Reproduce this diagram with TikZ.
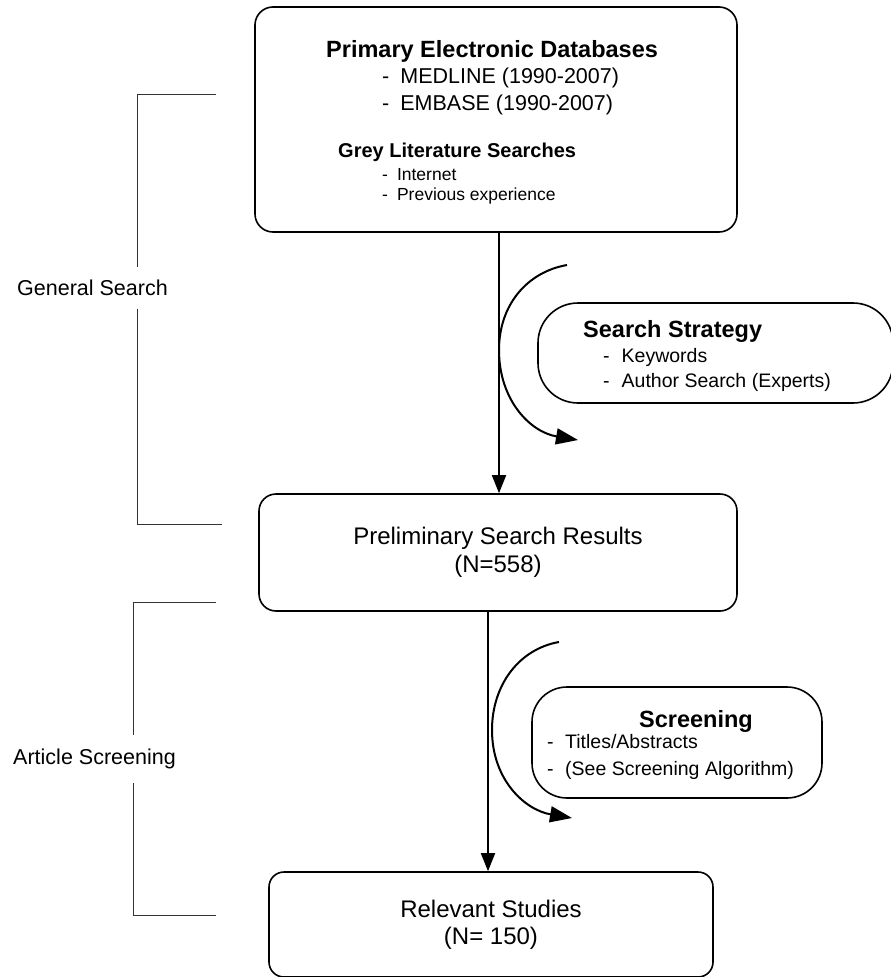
\documentclass[tikz,border=0pt]{standalone}
\usepackage{fontspec}
\setmainfont{Liberation Sans}
\usetikzlibrary{arrows.meta}
\tikzset{
    flowbox/.style={
        rectangle, draw, line width=1.6pt, inner sep=0pt, align=center
    },
    arrow/.style={
        -{Triangle[length=18pt,width=14pt]}, line width=1.8pt, draw=black
    },
    bendarrow/.style={
        -{Triangle[length=22pt,width=16pt]}, line width=2pt, draw=black
    },
    bracketline/.style={
        line width=0.9pt, draw=black!80
    }
}

\begin{document}
\begin{tikzpicture}[
        x=1pt, y=-1pt,
        headtext/.style={anchor=base west, inner sep=0pt, font=\fontsize{23.5}{28}\selectfont\bfseries},
        subhead/.style={anchor=base west, inner sep=0pt, font=\fontsize{20}{24}\selectfont\bfseries},
        itemtext/.style={anchor=base west, inner sep=0pt, font=\fontsize{21.5}{26}\selectfont},
        smallitem/.style={anchor=base west, inner sep=0pt, font=\fontsize{17.5}{21}\selectfont},
        sideitem/.style={anchor=base west, inner sep=0pt, font=\fontsize{19.5}{24}\selectfont},
        sidelabel/.style={inner xsep=0pt, font=\fontsize{21.5}{26}\selectfont}
    ]
        \useasboundingbox (0,0) rectangle (891,977);

        % Databases
        \node[flowbox, rounded corners=18pt, minimum width=482pt, minimum height=225pt] (db) at (496,119.5) {};
        \node[headtext] (db_title) at (326,57) {Primary Electronic Databases};
        \node[itemtext] (db_medline) at (382,83) {-\hspace{11pt}MEDLINE (1990-2007)};
        \node[itemtext] (db_embase) at (382,110) {-\hspace{11pt}EMBASE (1990-2007)};
        \node[subhead] (grey_title) at (338,157) {Grey Literature Searches};
        \node[smallitem] (grey_web) at (382,180) {-\hspace{9pt}Internet};
        \node[smallitem] (grey_prev) at (382,200) {-\hspace{9pt}Previous experience};

        % Search strategy
        \node[flowbox, rounded corners=40pt, minimum width=355pt, minimum height=100pt] (strat) at (715.5,353) {};
        \node[headtext] (strat_title) at (583,337) {Search Strategy};
        \node[sideitem] (strat_kw) at (603,362) {-\hspace{12pt}Keywords};
        \node[sideitem] (strat_auth) at (603,387) {-\hspace{12pt}Author Search (Experts)};

        % Results
        \node[flowbox, rounded corners=17pt, minimum width=478pt, minimum height=117pt, font=\fontsize{24}{28}\selectfont] (prelim) at (498,552.5) {Preliminary Search Results\\(N=558)};

        % Screening
        \node[flowbox, rounded corners=35pt, minimum width=290pt, minimum height=111pt] (scr) at (677,742.5) {};
        \node[headtext] (scr_title) at (639,727) {Screening};
        \node[sideitem] (scr_abs) at (547,748) {-\hspace{11.5pt}Titles/Abstracts};
        \node[sideitem] (scr_alg) at (547,775) {-\hspace{11.5pt}(See Screening Algorithm)};

        % Output
        \node[flowbox, rounded corners=15pt, minimum width=444pt, minimum height=105pt, font=\fontsize{24}{27}\selectfont] (rel) at (491,924.5) {Relevant Studies\\(N= 150)};

        % Arrows
        \draw[arrow] ([xshift=3pt]db.south) -- ([xshift=1pt]prelim.north);
        \draw[arrow] ([xshift=-10pt]prelim.south) -- ([xshift=-3pt]rel.north);

        \coordinate (strat_in) at (567,265);
        \coordinate (strat_out) at (578,440);
        \draw[bendarrow] (strat_in) .. controls (527,272) and (499,305) .. (499,350) .. controls (499,400) and (530,432) .. (strat_out);

        \coordinate (scr_in) at (559,642);
        \coordinate (scr_out) at (572,818);
        \draw[bendarrow] (scr_in) .. controls (519,649) and (492,685) .. (492,730) .. controls (492,780) and (525,810) .. (scr_out);

        % Brackets
        \node[sidelabel, inner ysep=12.5pt] (gs) at (92.5,288) {General Search};
        \coordinate (gs_top) at (216,94);
        \coordinate (gs_bot) at (222,524);
        \coordinate (gs_x) at (137,0);
        \draw[bracketline] (gs_top) -| (gs_x |- gs.north);
        \draw[bracketline] (gs.south -| gs_x) |- (gs_bot);

        \node[sidelabel, inner ysep=14.25pt] (as) at (94.5,759) {Article Screening};
        \coordinate (as_top) at (216,602);
        \coordinate (as_bot) at (216,915);
        \coordinate (as_x) at (133,0);
        \draw[bracketline] (as_top) -| (as_x |- as.north);
        \draw[bracketline] (as.south -| as_x) |- (as_bot);

    \end{tikzpicture}
\end{document}
